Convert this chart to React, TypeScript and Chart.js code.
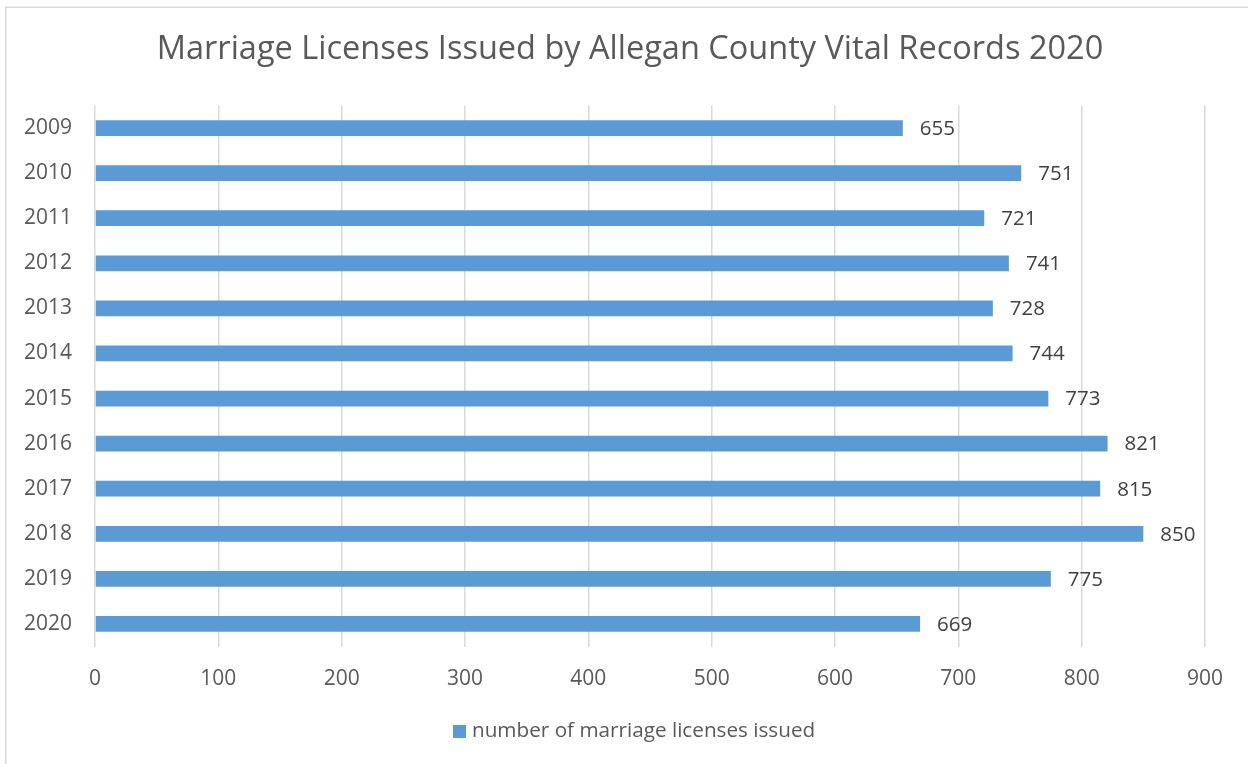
import React, { useEffect, useRef } from "react";
import { Chart, registerables } from "chart.js";
Chart.register(...registerables);

const years = ["2009", "2010", "2011", "2012", "2013", "2014", "2015", "2016", "2017", "2018", "2019", "2020"];
const licenses = [655, 751, 721, 741, 728, 744, 773, 821, 815, 850, 775, 669];
const xMin = 0;
const xMax = 900;
const xStep = 100;
const seriesLabel = "number of marriage licenses issued";
const titleText = "Marriage Licenses Issued by Allegan County Vital Records 2020";

const FONT = "'Open Sans', sans-serif";
const BAR = "#5b9bd5";

const decorPlugin = {
  id: "decor",
  beforeDraw(chart: any) {
    const ctx = chart.ctx;
    ctx.save();
    ctx.fillStyle = "#ffffff";
    ctx.fillRect(0, 0, chart.width, chart.height);
    ctx.strokeStyle = "#d9d9d9";
    ctx.lineWidth = 1.5;
    ctx.strokeRect(5.75, 7.25, chart.width + 20, chart.height + 20);
    ctx.restore();
  },
  afterDraw(chart: any) {
    const ctx = chart.ctx;
    ctx.save();
    // title
    ctx.fillStyle = "#595959";
    ctx.font = `32.5px ${FONT}`;
    ctx.textAlign = "center";
    ctx.textBaseline = "middle";
    ctx.fillText(titleText, 630, 50);
    // value labels
    const meta = chart.getDatasetMeta(0);
    ctx.font = `20.5px ${FONT}`;
    ctx.fillStyle = "#404040";
    ctx.textAlign = "left";
    meta.data.forEach((bar: any, i: number) => {
      ctx.fillText(String(licenses[i]), bar.x + 17, bar.y + 1);
    });
    // legend
    ctx.fillStyle = BAR;
    ctx.fillRect(453, 725, 13, 13);
    ctx.fillStyle = "#595959";
    ctx.font = `20.7px ${FONT}`;
    ctx.fillText(seriesLabel, 472, 731);
    ctx.restore();
  },
};

export default function App() {
  const ref = useRef<HTMLCanvasElement | null>(null);
  useEffect(() => {
    if (!ref.current) return;
    const chart = new Chart(ref.current, {
      type: "bar",
      data: {
        labels: years,
        datasets: [
          {
            label: seriesLabel,
            data: licenses,
            backgroundColor: BAR,
            categoryPercentage: 1,
            barPercentage: 0.35,
          },
        ],
      },
      options: {
        indexAxis: "y",
        responsive: false,
        animation: false,
        devicePixelRatio: 1,
        layout: { padding: { left: 0, top: 105.5, right: 43, bottom: 0 } },
        plugins: {
          legend: { display: false },
          title: { display: false },
          tooltip: { enabled: false },
        },
        scales: {
          x: {
            type: "linear",
            min: xMin,
            max: xMax,
            ticks: {
              stepSize: xStep,
              color: "#595959",
              font: { family: FONT, size: 21 },
              padding: 20,
            },
            grid: { color: "#d9d9d9", lineWidth: 1.5, drawTicks: false },
            border: { display: false },
            afterFit: (scale: any) => {
              scale.height = 764 - 646.5;
            },
          },
          y: {
            type: "category",
            ticks: {
              color: "#595959",
              font: { family: FONT, size: 21 },
              padding: 23,
            },
            grid: { display: false, drawTicks: false },
            border: { display: false },
            afterFit: (scale: any) => {
              scale.width = 95;
            },
          },
        },
      },
      plugins: [decorPlugin],
    } as any);
    return () => chart.destroy();
  }, []);
  return (
    <div style={{ position: "absolute", left: 0, top: 0, width: 1248, height: 764 }}>
      <canvas ref={ref} width={1248} height={764} style={{ display: "block" }} />
    </div>
  );
}
